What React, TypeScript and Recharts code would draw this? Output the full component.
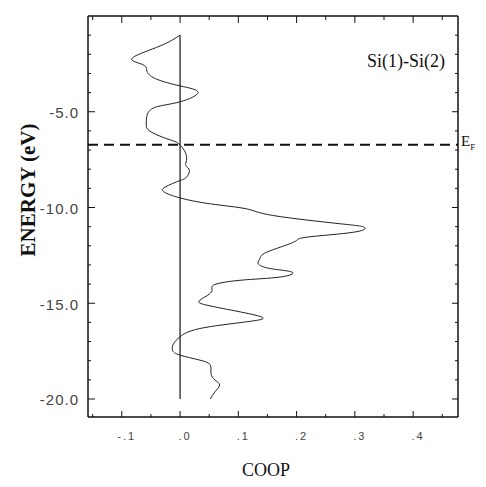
import {
  ReferenceLine,
  Scatter,
  ScatterChart,
  XAxis,
  YAxis,
} from "recharts";

// Si(1)-Si(2) COOP curve, energy (eV) vs overlap population
const ENERGY = [
  -1.0, -1.56, -2.17, -2.48, -2.69, -2.95, -3.3, -3.65, -3.99, -4.48,
  -4.74, -5.12, -5.64, -5.99, -6.34, -6.55, -6.74, -7.12, -7.55, -7.81,
  -8.07, -8.42, -8.59, -8.94, -9.2, -9.5, -9.81, -10.07, -10.42, -10.85,
  -11.03, -11.29, -11.55, -11.81, -12.33, -12.67, -12.93, -13.19, -13.37, -13.63,
  -13.8, -14.06, -14.41, -14.84, -15.1, -15.45, -15.75, -15.97, -16.32, -16.75,
  -17.1, -17.45, -17.71, -17.97, -18.23, -18.66, -19.01, -19.27, -19.62, -20.0,
];
const COOP = [
  0.0, -0.034, -0.081, -0.069, -0.058, -0.056, -0.04, 0.0, 0.031, 0.0,
  -0.04, -0.056, -0.058, -0.053, -0.029, -0.009, 0.0, 0.009, 0.011, 0.01,
  0.016, 0.011, 0.0, -0.026, -0.027, 0.0, 0.052, 0.114, 0.16, 0.275,
  0.316, 0.298, 0.217, 0.195, 0.149, 0.137, 0.134, 0.155, 0.192, 0.172,
  0.103, 0.057, 0.054, 0.034, 0.046, 0.103, 0.142, 0.114, 0.034, 0.0,
  -0.011, -0.013, 0.0, 0.034, 0.052, 0.053, 0.06, 0.068, 0.06, 0.052,
];

const FERMI_LEVEL = -6.72;

const COOP_TICKS = [-0.15, -0.1, -0.05, 0, 0.05, 0.1, 0.15, 0.2, 0.25, 0.3, 0.35, 0.4, 0.45];
const COOP_MAJOR = [-0.1, 0, 0.1, 0.2, 0.3, 0.4];
const COOP_LABELS = ["-.1", ".0", ".1", ".2", ".3", ".4"];

const ENERGY_TICKS = [
  -1, -2, -3, -4, -5, -6, -7, -8, -9, -10,
  -11, -12, -13, -14, -15, -16, -17, -18, -19, -20,
];
const ENERGY_MAJOR = [-5, -10, -15, -20];
const ENERGY_LABELS = ["-5.0", "-10.0", "-15.0", "-20.0"];

const data = ENERGY.map((e, i) => ({ energy: e, coop: COOP[i] }));

const INK = "#111";

function majorIndex(list: number[], v: number) {
  return list.findIndex((m) => Math.abs(m - v) < 1e-6);
}

function BottomTick(props: any) {
  const { x, y, payload } = props;
  const i = majorIndex(COOP_MAJOR, payload.value);
  const len = i >= 0 ? 6 : 3;
  return (
    <g>
      <line x1={x} x2={x} y1={y} y2={y - len} stroke={INK} strokeWidth={1} />
      {i >= 0 && (
        <text
          x={x + 5}
          y={y + 19}
          textAnchor="middle"
          dominantBaseline="central"
          fontFamily="Liberation Sans"
          fontSize={11}
          letterSpacing={2}
          fill="#444"
        >
          {COOP_LABELS[i]}
        </text>
      )}
    </g>
  );
}

function TopTick(props: any) {
  const { x, y, payload } = props;
  const len = majorIndex(COOP_MAJOR, payload.value) >= 0 ? 7 : 4;
  return <line x1={x} x2={x} y1={y} y2={y + len} stroke={INK} strokeWidth={1} />;
}

function LeftTick(props: any) {
  const { x, y, payload } = props;
  const i = majorIndex(ENERGY_MAJOR, payload.value);
  const len = i >= 0 ? 7 : 3;
  return (
    <g>
      <line x1={x} x2={x + len} y1={y} y2={y} stroke={INK} strokeWidth={1} />
      {i >= 0 && (
        <text
          x={x - 9}
          y={y + 1}
          textAnchor="end"
          dominantBaseline="central"
          fontFamily="Liberation Sans"
          fontSize={15}
          letterSpacing={1}
          fill="#444"
        >
          {ENERGY_LABELS[i]}
        </text>
      )}
    </g>
  );
}

function RightTick(props: any) {
  const { x, y, payload } = props;
  const len = majorIndex(ENERGY_MAJOR, payload.value) >= 0 ? 6 : 3;
  return <line x1={x} x2={x - len} y1={y} y2={y} stroke={INK} strokeWidth={1} />;
}

const noShape = () => <g />;

export default function App() {
  return (
    <div style={{ position: "relative", width: 470, height: 471 }}>
      <style>{"html{overflow:hidden}"}</style>
      <ScatterChart
        width={470}
        height={471}
        margin={{ top: 0, right: 0, bottom: 0, left: 0 }}
      >
        <XAxis
          xAxisId="bottom"
          type="number"
          dataKey="coop"
          orientation="bottom"
          domain={[-0.158, 0.477]}
          allowDataOverflow
          ticks={COOP_TICKS}
          interval={0}
          height={62}
          tickSize={0}
          tickMargin={0}
          tickLine={false}
          tick={BottomTick}
          axisLine={{ stroke: INK, strokeWidth: 1.5 }}
        />
        <XAxis
          xAxisId="top"
          type="number"
          dataKey="coop"
          orientation="top"
          domain={[-0.158, 0.477]}
          allowDataOverflow
          ticks={COOP_TICKS}
          interval={0}
          height={8}
          tickSize={0}
          tickMargin={0}
          tickLine={false}
          tick={TopTick}
          axisLine={{ stroke: INK, strokeWidth: 1.5 }}
        />
        <YAxis
          yAxisId="left"
          type="number"
          dataKey="energy"
          orientation="left"
          domain={[-20.94, 0]}
          allowDataOverflow
          ticks={ENERGY_TICKS}
          interval={0}
          width={80}
          tickSize={0}
          tickMargin={0}
          tickLine={false}
          tick={LeftTick}
          axisLine={{ stroke: INK, strokeWidth: 1.5 }}
        />
        <YAxis
          yAxisId="right"
          type="number"
          dataKey="energy"
          orientation="right"
          domain={[-20.94, 0]}
          allowDataOverflow
          ticks={ENERGY_TICKS}
          interval={0}
          width={20}
          tickSize={0}
          tickMargin={0}
          tickLine={false}
          tick={RightTick}
          axisLine={{ stroke: INK, strokeWidth: 1.5 }}
        />
        <ReferenceLine
          xAxisId="bottom"
          yAxisId="left"
          segment={[
            { x: 0, y: -1 },
            { x: 0, y: -20 },
          ]}
          stroke={INK}
          strokeWidth={1.2}
        />
        <ReferenceLine
          xAxisId="bottom"
          yAxisId="left"
          y={FERMI_LEVEL}
          stroke={INK}
          strokeWidth={2}
          strokeDasharray="10 6"
        />
        <Scatter
          xAxisId="top"
          yAxisId="right"
          data={data}
          shape={noShape}
          isAnimationActive={false}
        />
        <Scatter
          xAxisId="bottom"
          yAxisId="left"
          data={data}
          line={{ stroke: "#222", strokeWidth: 1 }}
          lineJointType="natural"
          shape={noShape}
          isAnimationActive={false}
        />
      </ScatterChart>
      <svg
        width={478}
        height={479}
        style={{ position: "absolute", left: 0, top: 0, pointerEvents: "none" }}
      >
        <text
          x={0}
          y={0}
          transform="translate(20 182) rotate(-90)"
          textAnchor="middle"
          dominantBaseline="central"
          fontFamily="Liberation Serif"
          fontWeight="bold"
          fontSize={21}
          fill={INK}
        >
          ENERGY (eV)
        </text>
        <text
          x={258}
          y={468}
          textAnchor="middle"
          fontFamily="Liberation Serif"
          fontSize={18}
          fill={INK}
        >
          COOP
        </text>
        <text
          x={437}
          y={59}
          textAnchor="end"
          fontFamily="Liberation Serif"
          fontSize={18}
          fill={INK}
        >
          Si(1)-Si(2)
        </text>
        <text x={453} y={138} fontFamily="Liberation Serif" fontSize={15} fill={INK}>
          E
          <tspan fontSize={9} dy={4}>
            F
          </tspan>
        </text>
      </svg>
    </div>
  );
}
